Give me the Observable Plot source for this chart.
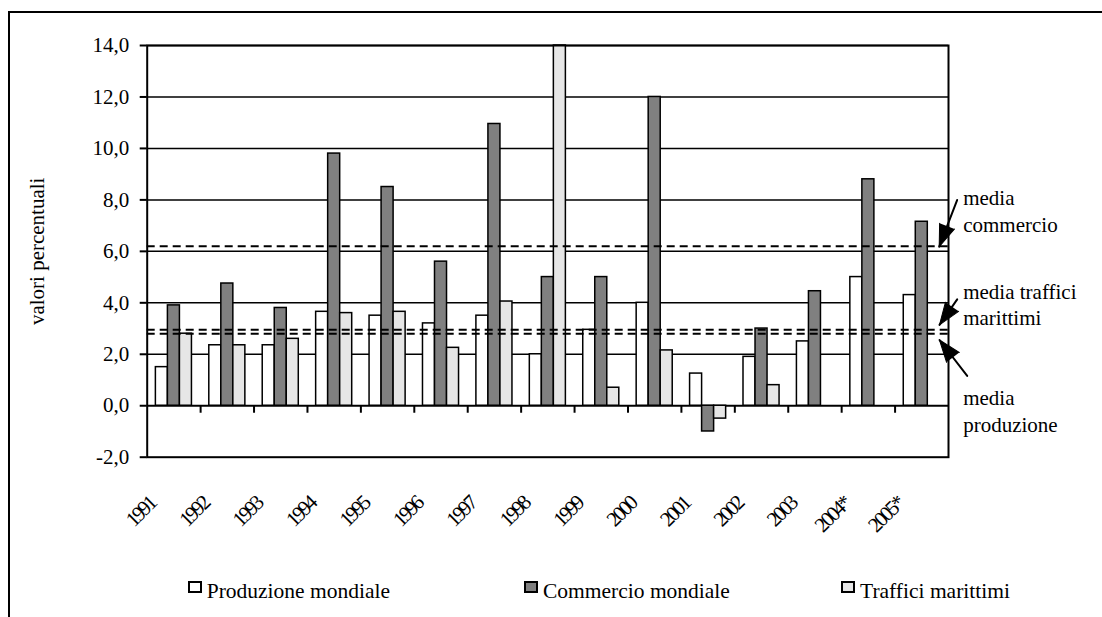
<!DOCTYPE html>
<html>
<head>
<meta charset="utf-8">
<script src="https://cdn.jsdelivr.net/npm/d3@7"></script>
<script src="https://cdn.jsdelivr.net/npm/@observablehq/plot@0.6"></script>
<style>
  html, body { margin: 0; padding: 0; background: #fff; overflow: hidden; }
  #wrap { position: relative; width: 1102px; height: 617px; overflow: hidden; font-family: "Liberation Serif", "Times New Roman", serif; }
  #chart { position: absolute; left: 0; top: 0; }
  #outer { position: absolute; left: 8px; top: 11px; right: -20px; bottom: -20px; border-left: 2px solid #000; border-top: 2px solid #000; pointer-events: none; }
  .lg { position: absolute; font-size: 21.5px; line-height: 20px; color: #000; white-space: nowrap; }
  .sw { position: absolute; width: 10px; height: 8px; border: 2px solid #000; }
</style>
</head>
<body>
<div id="wrap">
  <div id="chart"></div>
  <div id="legend"></div>
  <div id="outer"></div>
</div>
<script>
// ---- data ----
const years = ["1991","1992","1993","1994","1995","1996","1997","1998","1999","2000","2001","2002","2003","2004*","2005*"];
const produzione = [1.5, 2.35, 2.35, 3.65, 3.5, 3.2, 3.5, 2.0, 2.95, 4.0, 1.25, 1.9, 2.5, 5.0, 4.3];
const commercio  = [3.9, 4.75, 3.8, 9.8, 8.5, 5.6, 10.95, 5.0, 5.0, 12.0, -1.0, 3.0, 4.45, 8.8, 7.15];
const traffici   = [2.8, 2.35, 2.6, 3.6, 3.65, 2.25, 4.05, 14.0, 0.7, 2.15, -0.5, 0.8, null, null, null];
const seriesNames = ["Produzione mondiale", "Commercio mondiale", "Traffici marittimi"];
const seriesColors = ["#ffffff", "#808080", "#e6e6e6"];
const mediaLabels = ["media\ncommercio", "media traffici\nmarittimi", "media\nproduzione"];
const mediaValues = [6.2, 2.95, 2.8];
const yTicks = [-2, 0, 2, 4, 6, 8, 10, 12, 14];
const yLabel = "valori percentuali";

// ---- layout helpers ----
const seriesValues = [produzione, commercio, traffici];
const BW = 0.225;                 // bar width as fraction of a year slot
const OFF = (1 - 3 * BW) / 2;     // left offset of the group in the slot
const yearIdx = years.map((d, i) => i);
const boundaries = d3.range(1, years.length);
const FS = 21;

const tickDown = { draw(ctx) { ctx.moveTo(0, 0); ctx.lineTo(0, 7); } };
const lineShape = { draw(ctx, l) { ctx.moveTo(0, 0); ctx.lineTo(0, -l); } };

const barMarks = seriesValues.map((vals, s) =>
  Plot.rectY(yearIdx, {
    x1: i => i + OFF + s * BW,
    x2: i => i + OFF + (s + 1) * BW,
    y1: () => 0,
    y2: i => vals[i],
    fill: seriesColors[s],
    stroke: "#000",
    strokeWidth: 1.5
  })
);

function annotation(k, dyText, tip, length, rotate) {
  const xr = () => years.length;
  const yv = () => mediaValues[k];
  return [
    Plot.text([mediaLabels[k]], { x: xr, y: yv, text: d => d, textAnchor: "start", lineAnchor: "top", lineHeight: 1.25, dx: 14.7, dy: dyText, fontSize: FS }),
    Plot.vector([k], { x: xr, y: yv, dx: tip[0], dy: tip[1], length, rotate, anchor: "end", shape: lineShape, stroke: "#000", strokeWidth: 2 }),
    Plot.vector([k], { x: xr, y: yv, dx: tip[0], dy: tip[1], length: 22, r: 8, rotate, anchor: "end", shape: "spike", stroke: "#000", fill: "#000", strokeWidth: 1 })
  ];
}

const W = 1102, H = 565;
const chart = Plot.plot({
  width: W,
  height: H,
  marginLeft: 146.7,
  marginRight: 154,
  marginTop: 45,
  marginBottom: H - 456.7,
  style: { fontFamily: "Liberation Serif", fontSize: FS + "px", background: "transparent", color: "#000" },
  x: { type: "linear", domain: [0, years.length], axis: null },
  y: { domain: [-2, 14], axis: null },
  marks: [
    Plot.ruleY(yTicks.filter(t => t > 0), { stroke: "#000", strokeWidth: 1.5 }),
    Plot.ruleY([0], { stroke: "#000", strokeWidth: 2 }),
    ...barMarks,
    Plot.dot(boundaries, { x: d => d, y: () => 0, symbol: tickDown, stroke: "#000", strokeWidth: 2, fill: "none" }),
    ...mediaValues.map(v => Plot.ruleY([v], { stroke: "#000", strokeWidth: 2, strokeDasharray: "8,5" })),
    Plot.frame({ stroke: "#000", strokeWidth: 2 }),
    Plot.axisY({ ticks: yTicks, tickFormat: d => d.toFixed(1).replace(".", ","), tickSize: 7, tickPadding: 11, strokeWidth: 2, label: null, fontSize: FS }),
    Plot.text(years, { x: (d, i) => i + 0.5, text: d => d, frameAnchor: "bottom", rotate: -45, textAnchor: "end", dx: -17, dy: 48, fontSize: FS }),
    Plot.text([yLabel], { text: d => d, frameAnchor: "left", rotate: -90, textAnchor: "middle", dx: -110, fontSize: FS }),
    ...annotation(0, -59.4, [-9.3, 0.5], 50, 201),
    ...annotation(1, -49.7, [-9, -5], 31, 214.8),
    ...annotation(2, 53.1, [-9, 6.3], 45.4, -37.6)
  ]
});
// condensed year labels, as in the original
d3.select(chart).selectAll("text")
  .filter(function () { return years.includes(this.textContent); })
  .style("letter-spacing", "-2.5px");
document.getElementById("chart").appendChild(chart);

// ---- legend (below the chart) ----
const legend = document.getElementById("legend");
const legendX = [206.7, 543, 860];
seriesNames.forEach((name, s) => {
  const sw = document.createElement("div");
  sw.className = "sw";
  sw.style.left = (legendX[s] - 19) + "px";
  sw.style.top = "581px";
  sw.style.background = seriesColors[s];
  legend.appendChild(sw);
  const t = document.createElement("div");
  t.className = "lg";
  t.style.left = legendX[s] + "px";
  t.style.top = "581px";
  t.textContent = name;
  legend.appendChild(t);
});
</script>
</body>
</html>
